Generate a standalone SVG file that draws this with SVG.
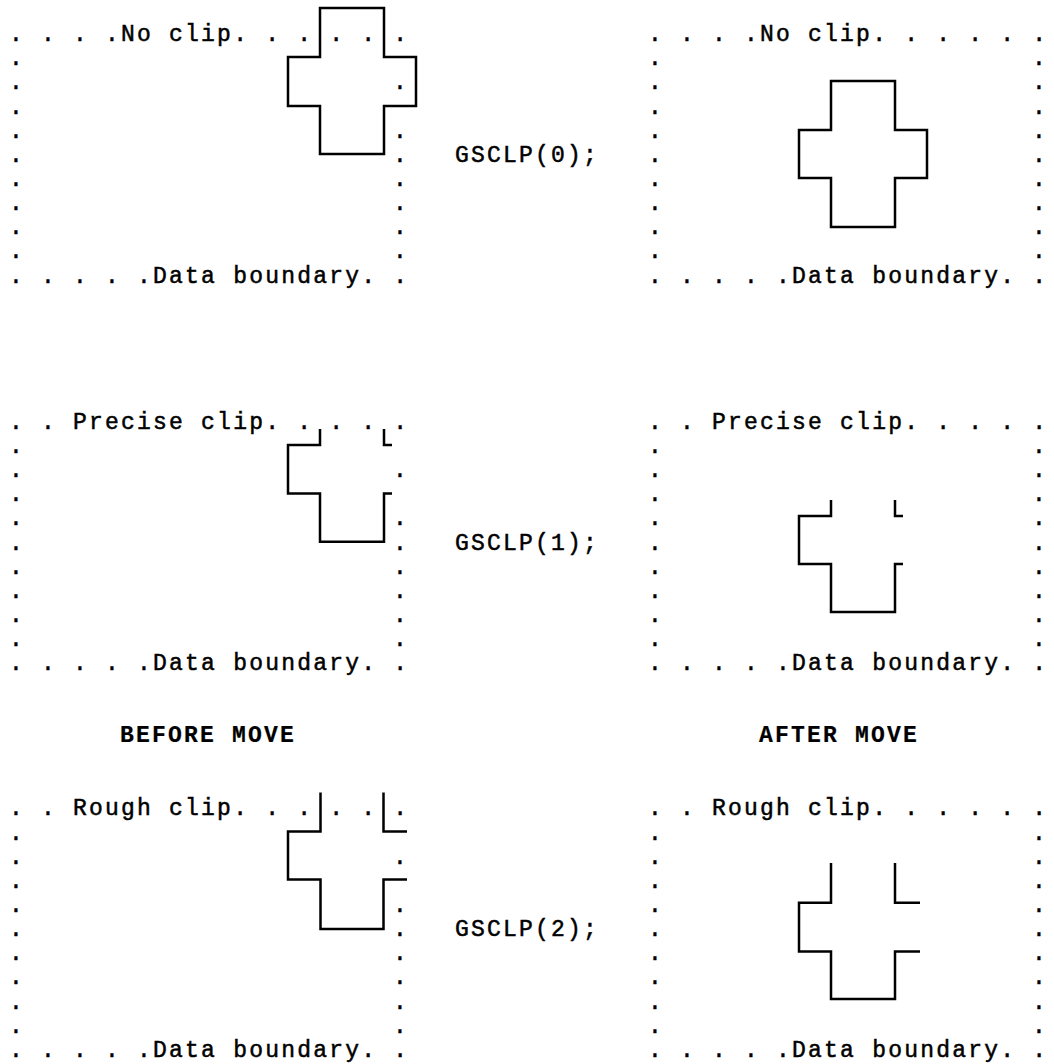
<svg xmlns="http://www.w3.org/2000/svg" width="1054" height="1064" viewBox="0 0 1054 1064" xml:space="preserve">
<style>
.t{font-family:"Liberation Mono","DejaVu Sans Mono",monospace;font-size:23px;letter-spacing:2.2px;fill:#000;stroke:#000;stroke-width:0.5;white-space:pre}
.b{font-weight:bold;stroke-width:0.2}
.x{fill:none;stroke:#000;stroke-width:2.5;stroke-linejoin:miter;stroke-linecap:butt}
</style>
<rect width="1054" height="1064" fill="#fff"/>
<g id="panel-noclip-before">
<text class="t" x="9.1" y="41">. . . .No clip. . . . . .</text>
<text class="t" x="9.1" y="65.2">.</text>
<text class="t" x="9.1" y="89.3">.</text><text class="t" x="393.1" y="89.3">.</text>
<text class="t" x="9.1" y="113.5">.</text>
<text class="t" x="9.1" y="137.6">.</text><text class="t" x="393.1" y="137.6">.</text>
<text class="t" x="9.1" y="161.8">.</text><text class="t" x="393.1" y="161.8">.</text>
<text class="t" x="9.1" y="185.9">.</text><text class="t" x="393.1" y="185.9">.</text>
<text class="t" x="9.1" y="210.1">.</text><text class="t" x="393.1" y="210.1">.</text>
<text class="t" x="9.1" y="234.2">.</text><text class="t" x="393.1" y="234.2">.</text>
<text class="t" x="9.1" y="258.4">.</text><text class="t" x="393.1" y="258.4">.</text>
<text class="t" x="9.1" y="282.5">. . . . .Data boundary. .</text>
<path class="x" d="M320,8 H384 V57 H416 V106 H384 V154 H320 V106 H288 V57 H320 Z"/>
</g>
<g id="panel-noclip-after">
<text class="t" x="648.1" y="41">. . . .No clip. . . . . .</text>
<text class="t" x="648.1" y="65.2">.</text><text class="t" x="1032.1" y="65.2">.</text>
<text class="t" x="648.1" y="89.3">.</text><text class="t" x="1032.1" y="89.3">.</text>
<text class="t" x="648.1" y="113.5">.</text><text class="t" x="1032.1" y="113.5">.</text>
<text class="t" x="648.1" y="137.6">.</text><text class="t" x="1032.1" y="137.6">.</text>
<text class="t" x="648.1" y="161.8">.</text><text class="t" x="1032.1" y="161.8">.</text>
<text class="t" x="648.1" y="185.9">.</text><text class="t" x="1032.1" y="185.9">.</text>
<text class="t" x="648.1" y="210.1">.</text><text class="t" x="1032.1" y="210.1">.</text>
<text class="t" x="648.1" y="234.2">.</text><text class="t" x="1032.1" y="234.2">.</text>
<text class="t" x="648.1" y="258.4">.</text><text class="t" x="1032.1" y="258.4">.</text>
<text class="t" x="648.1" y="282.5">. . . . .Data boundary. .</text>
<path class="x" d="M831,81 H895 V130 H927 V178 H895 V227 H831 V178 H799 V130 H831 Z"/>
</g>
<g id="label-gsclp0"><text class="t" x="455.1" y="161.8">GSCLP(0);</text></g>
<g id="panel-precise-before">
<text class="t" x="9.1" y="428.7">. . Precise clip. . . . .</text>
<text class="t" x="9.1" y="452.9">.</text>
<text class="t" x="9.1" y="477">.</text><text class="t" x="393.1" y="477">.</text>
<text class="t" x="9.1" y="501.2">.</text>
<text class="t" x="9.1" y="525.3">.</text><text class="t" x="393.1" y="525.3">.</text>
<text class="t" x="9.1" y="549.5">.</text><text class="t" x="393.1" y="549.5">.</text>
<text class="t" x="9.1" y="573.6">.</text><text class="t" x="393.1" y="573.6">.</text>
<text class="t" x="9.1" y="597.8">.</text><text class="t" x="393.1" y="597.8">.</text>
<text class="t" x="9.1" y="621.9">.</text><text class="t" x="393.1" y="621.9">.</text>
<text class="t" x="9.1" y="646.1">.</text><text class="t" x="393.1" y="646.1">.</text>
<text class="t" x="9.1" y="670.2">. . . . .Data boundary. .</text>
<path class="x" d="M320,429 V445 H288 V493.5 H320 V541.7 H384 V493.5 H392 M384,429 V445 H392"/>
</g>
<g id="panel-precise-after">
<text class="t" x="648.1" y="428.7">. . Precise clip. . . . .</text>
<text class="t" x="648.1" y="452.9">.</text><text class="t" x="1032.1" y="452.9">.</text>
<text class="t" x="648.1" y="477">.</text><text class="t" x="1032.1" y="477">.</text>
<text class="t" x="648.1" y="501.2">.</text><text class="t" x="1032.1" y="501.2">.</text>
<text class="t" x="648.1" y="525.3">.</text><text class="t" x="1032.1" y="525.3">.</text>
<text class="t" x="648.1" y="549.5">.</text><text class="t" x="1032.1" y="549.5">.</text>
<text class="t" x="648.1" y="573.6">.</text><text class="t" x="1032.1" y="573.6">.</text>
<text class="t" x="648.1" y="597.8">.</text><text class="t" x="1032.1" y="597.8">.</text>
<text class="t" x="648.1" y="621.9">.</text><text class="t" x="1032.1" y="621.9">.</text>
<text class="t" x="648.1" y="646.1">.</text><text class="t" x="1032.1" y="646.1">.</text>
<text class="t" x="648.1" y="670.2">. . . . .Data boundary. .</text>
<path class="x" d="M831,500 V516 H799 V564 H831 V612 H895 V564 H903 M895,500 V516 H903"/>
</g>
<g id="label-gsclp1"><text class="t" x="455.1" y="549.5">GSCLP(1);</text></g>
<g id="label-before"><text class="t b" x="120.1" y="742">BEFORE MOVE</text></g>
<g id="label-after"><text class="t b" x="759.1" y="742">AFTER MOVE</text></g>
<g id="panel-rough-before">
<text class="t" x="9.1" y="815.3">. . Rough clip. . . . . .</text>
<text class="t" x="9.1" y="839.5">.</text>
<text class="t" x="9.1" y="863.6">.</text><text class="t" x="393.1" y="863.6">.</text>
<text class="t" x="9.1" y="887.8">.</text>
<text class="t" x="9.1" y="911.9">.</text><text class="t" x="393.1" y="911.9">.</text>
<text class="t" x="9.1" y="936.1">.</text><text class="t" x="393.1" y="936.1">.</text>
<text class="t" x="9.1" y="960.2">.</text><text class="t" x="393.1" y="960.2">.</text>
<text class="t" x="9.1" y="984.4">.</text><text class="t" x="393.1" y="984.4">.</text>
<text class="t" x="9.1" y="1008.5">.</text><text class="t" x="393.1" y="1008.5">.</text>
<text class="t" x="9.1" y="1032.7">.</text><text class="t" x="393.1" y="1032.7">.</text>
<text class="t" x="9.1" y="1056.8">. . . . .Data boundary. .</text>
<path class="x" d="M320.5,792.5 V831.5 H288 V879.5 H320.5 V929 H383.5 V879.5 H407 M383.5,792.5 V831.5 H407"/>
</g>
<g id="panel-rough-after">
<text class="t" x="648.1" y="815.3">. . Rough clip. . . . . .</text>
<text class="t" x="648.1" y="839.5">.</text><text class="t" x="1032.1" y="839.5">.</text>
<text class="t" x="648.1" y="863.6">.</text><text class="t" x="1032.1" y="863.6">.</text>
<text class="t" x="648.1" y="887.8">.</text><text class="t" x="1032.1" y="887.8">.</text>
<text class="t" x="648.1" y="911.9">.</text><text class="t" x="1032.1" y="911.9">.</text>
<text class="t" x="648.1" y="936.1">.</text><text class="t" x="1032.1" y="936.1">.</text>
<text class="t" x="648.1" y="960.2">.</text><text class="t" x="1032.1" y="960.2">.</text>
<text class="t" x="648.1" y="984.4">.</text><text class="t" x="1032.1" y="984.4">.</text>
<text class="t" x="648.1" y="1008.5">.</text><text class="t" x="1032.1" y="1008.5">.</text>
<text class="t" x="648.1" y="1032.7">.</text><text class="t" x="1032.1" y="1032.7">.</text>
<text class="t" x="648.1" y="1056.8">. . . . .Data boundary. .</text>
<path class="x" d="M831,863 V902.7 H799 V951.5 H831 V999 H895 V951.5 H920 M895,863 V902.7 H920"/>
</g>
<g id="label-gsclp2"><text class="t" x="455.1" y="936.1">GSCLP(2);</text></g>
</svg>
